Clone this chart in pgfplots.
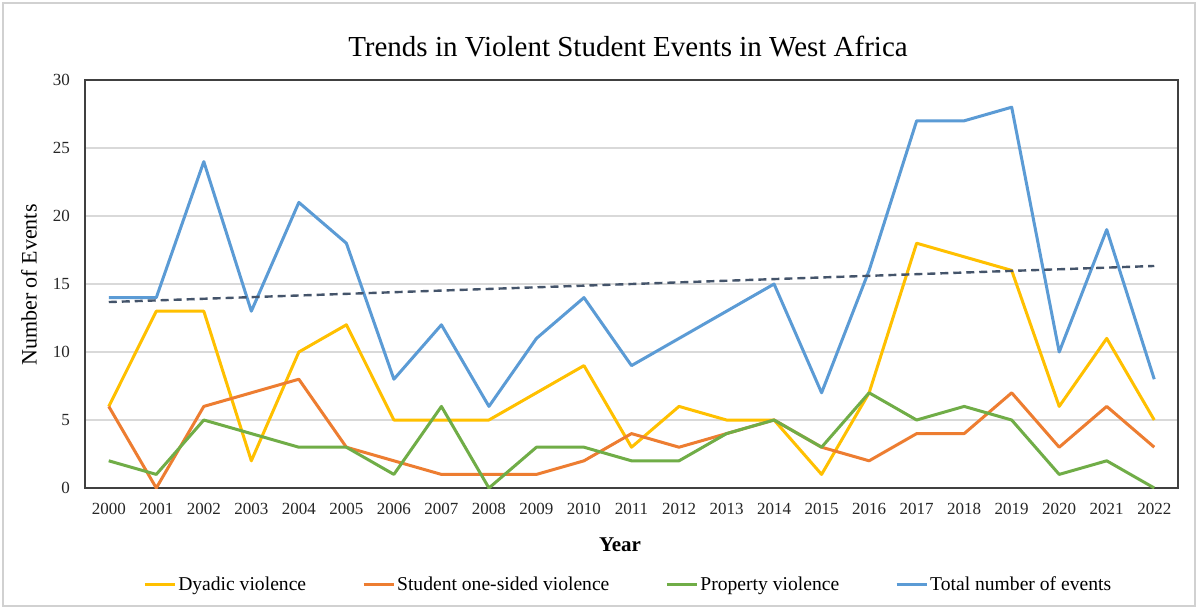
\documentclass[border=0pt]{standalone}
\usepackage{fontspec}
\setmainfont{Liberation Serif}
\usepackage{pgfplots}
\pgfplotsset{compat=1.18}
\usepackage{pgfplotstable}

\definecolor{dyadic}{HTML}{FFC000}
\definecolor{onesided}{HTML}{ED7D31}
\definecolor{property}{HTML}{70AD47}
\definecolor{total}{HTML}{5B9BD5}
\definecolor{trend}{HTML}{44546A}

% Yearly counts of violent student events (index 0 = 2000)
\pgfplotstableread{
idx year dyadic onesided property total
0  2000  6 6 2 14
1  2001 13 0 1 14
2  2002 13 6 5 24
3  2003  2 7 4 13
4  2004 10 8 3 21
5  2005 12 3 3 18
6  2006  5 2 1  8
7  2007  5 1 6 12
8  2008  5 1 0  6
9  2009  7 1 3 11
10 2010  9 2 3 14
11 2011  3 4 2  9
12 2012  6 3 2 11
13 2013  5 4 4 13
14 2014  5 5 5 15
15 2015  1 3 3  7
16 2016  7 2 7 16
17 2017 18 4 5 27
18 2018 17 4 6 27
19 2019 16 7 5 28
20 2020  6 3 1 10
21 2021 11 6 2 19
22 2022  5 3 0  8
}\events

% Linear trend of the total (least squares end points)
\pgfplotstableread{
idx trend
0  13.674
22 16.326
}\trendline

\begin{document}
\begin{tikzpicture}
\useasboundingbox (-42.5pt,-59.5pt) rectangle (556.5pt,244pt);
\fill[white] (-42.5pt,-59.5pt) rectangle (556.5pt,244pt);
\draw[black!18, line width=0.8pt] (-41pt,-59pt) rectangle (555pt,242.5pt);

\begin{axis}[
  scale only axis,
  width=546.5pt, height=204pt,
  xmin=-0.5, xmax=22.5, ymin=0, ymax=30,
  xtick={0,...,22},
  xticklabels={2000,2001,2002,2003,2004,2005,2006,2007,2008,2009,2010,2011,2012,2013,2014,2015,2016,2017,2018,2019,2020,2021,2022},
  ytick={0,5,...,30},
  ymajorgrids,
  grid style={draw=black!15, line width=0.6pt},
  axis line style={draw=black!75, line width=0.8pt},
  major tick length=0pt,
  /pgf/number format/assume math mode=true,
  tick label style={font=\fontsize{8.5}{10}\selectfont, text=black!85},
  xticklabel style={yshift=-4pt},
  yticklabel style={xshift=-4pt},
  legend columns=4,
  legend style={
    at={(rel axis cs:0.497,0)}, anchor=north, yshift=-41pt,
    draw=none, fill=none,
    font=\fontsize{9.8}{11}\selectfont,
    /tikz/every even column/.append style={column sep=27pt},
    nodes={inner sep=1pt},
  },
  legend cell align=left,
  legend image code/.code={\draw[#1] (0pt,0pt) -- (15pt,0pt);},
  every axis plot/.append style={line width=1.5pt, line join=round},
]
\addplot[dyadic]   table[x=idx, y=dyadic]   {\events};
\addplot[onesided] table[x=idx, y=onesided] {\events};
\addplot[property] table[x=idx, y=property] {\events};
\addplot[total]    table[x=idx, y=total]    {\events};
\addplot[trend, line width=1.2pt, dash pattern=on 4pt off 2.5pt, forget plot] table[x=idx, y=trend] {\trendline};
\legend{Dyadic violence, Student one-sided violence, Property violence, Total number of events}
\end{axis}

\node[anchor=base, font=\fontsize{14.5}{17}\selectfont] at (271.5pt,215.75pt) {Trends in Violent Student Events in West Africa};
\node[rotate=90, font=\fontsize{11}{13}\selectfont] at (-28pt,101.5pt) {Number of Events};
\node[anchor=base, font=\bfseries\fontsize{10.5}{12}\selectfont] at (267.5pt,-31.8pt) {Year};
\end{tikzpicture}
\end{document}
